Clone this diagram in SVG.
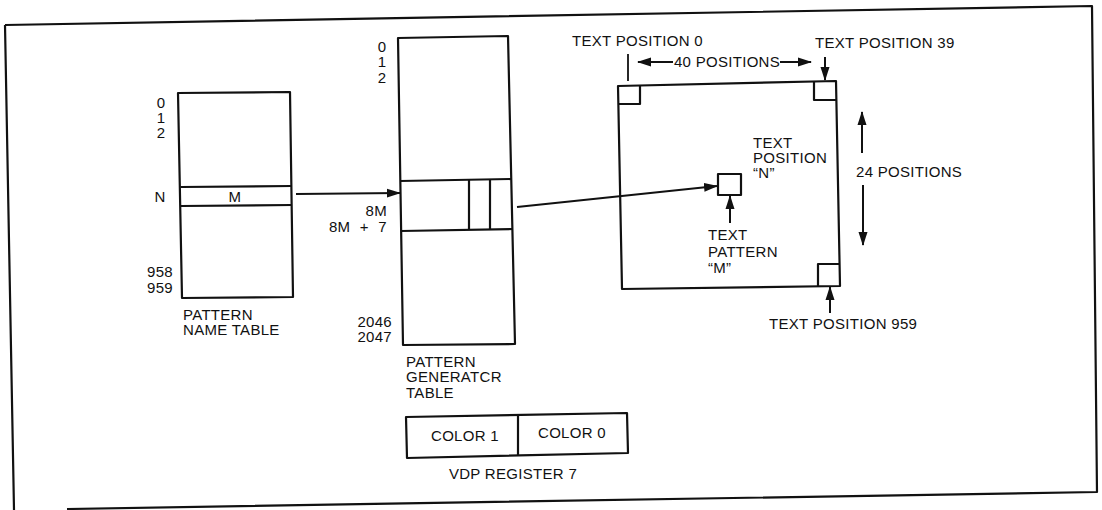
<svg xmlns="http://www.w3.org/2000/svg" width="1102" height="510" viewBox="0 0 1102 510">
<style>
text{font-family:"Liberation Sans",Arial,sans-serif;font-size:15px;letter-spacing:0.3px;fill:#111}
.box{fill:none;stroke:#111;stroke-width:2.2;stroke-linejoin:round}
.ln{fill:none;stroke:#111;stroke-width:1.8}
.arr{fill:none;stroke:#111;stroke-width:2;marker-end:url(#ah)}
.m{text-anchor:middle}
.e{text-anchor:end}
</style>
<defs>
<marker id="ah" markerUnits="userSpaceOnUse" markerWidth="14" markerHeight="10" refX="13" refY="5" orient="auto">
<path d="M0,0.5 L14,5 L0,9.5 Z" fill="#111"/>
</marker>
</defs>
<rect width="1102" height="510" fill="#fff"/>
<g id="frame">
<path class="box" d="M5,25 L1092,6 L1097,492 L67,509 M5,25 L14,510" stroke-width="2.6"/>
</g>
<g id="pattern-name-table">
<polygon class="box" points="178,93 290,92 293,297 182,298"/>
<line class="box" x1="180.5" y1="187" x2="291.5" y2="186"/>
<line class="box" x1="181" y1="206" x2="292" y2="205"/>
<text x="161" y="108" class="m">0</text>
<text x="161" y="123" class="m">1</text>
<text x="161" y="138" class="m">2</text>
<text x="160" y="202" class="m">N</text>
<text x="235" y="202" class="m">M</text>
<text x="173" y="277" class="e">958</text>
<text x="173" y="293" class="e">959</text>
<text x="183" y="320">PATTERN</text>
<text x="183" y="335">NAME TABLE</text>
</g>
<g id="pattern-generator-table">
<polygon class="box" points="398,38 508,36 515,344 403,345"/>
<line class="box" x1="400" y1="181" x2="511" y2="179"/>
<line class="box" x1="401" y1="231" x2="513" y2="229"/>
<line class="box" x1="469" y1="180" x2="469" y2="230"/>
<line class="box" x1="490" y1="180" x2="490" y2="230"/>
<text x="382" y="52" class="m">0</text>
<text x="382" y="67" class="m">1</text>
<text x="382" y="83" class="m">2</text>
<text x="387" y="216" class="e">8M</text>
<text x="387" y="232" class="e" word-spacing="5">8M + 7</text>
<text x="392" y="327" class="e">2046</text>
<text x="392" y="342" class="e">2047</text>
<text x="406" y="367">PATTERN</text>
<text x="406" y="382">GENERATCR</text>
<text x="406" y="398">TABLE</text>
</g>
<g id="vdp-register-7">
<polygon class="box" points="406,417 627,413 628,453 407,458"/>
<line class="box" x1="518" y1="415" x2="518" y2="456"/>
<text x="465" y="441" class="m">COLOR 1</text>
<text x="572" y="438" class="m">COLOR 0</text>
<text x="513" y="479" class="m">VDP REGISTER 7</text>
</g>
<g id="screen">
<polygon class="box" points="618,86 836,81 840,286 622,289"/>
<polyline class="box" points="618,104 640,104 640,85"/>
<polyline class="box" points="814,81 814,100 836,100"/>
<polyline class="box" points="818,286 818,264 840,264"/>
<rect class="box" x="718" y="174" width="23" height="21"/>
<text x="572" y="46">TEXT POSITION 0</text>
<text x="815" y="48">TEXT POSITION 39</text>
<text x="727" y="67" class="m">40 POSITIONS</text>
<text x="753" y="148">TEXT</text>
<text x="753" y="163">POSITION</text>
<text x="753" y="178">“N”</text>
<text x="856" y="177">24 POSITIONS</text>
<text x="708" y="240">TEXT</text>
<text x="708" y="257">PATTERN</text>
<text x="708" y="273">“M”</text>
<text x="769" y="329">TEXT POSITION 959</text>
</g>
<g id="connectors">
<line class="arr" x1="296" y1="194" x2="400" y2="193"/>
<line class="arr" x1="517" y1="207" x2="717" y2="186"/>
<line class="arr" x1="673" y1="62" x2="638" y2="62"/>
<line class="arr" x1="780" y1="62" x2="811" y2="62"/>
<line class="ln" x1="628" y1="54" x2="628" y2="81" stroke-width="2.2"/>
<line class="arr" x1="825" y1="57" x2="825" y2="80"/>
<line class="arr" x1="862" y1="153" x2="862" y2="112"/>
<line class="arr" x1="863" y1="185" x2="863" y2="245"/>
<line class="arr" x1="730" y1="223" x2="730" y2="196"/>
<line class="arr" x1="830" y1="313" x2="830" y2="287"/>
</g>
</svg>
